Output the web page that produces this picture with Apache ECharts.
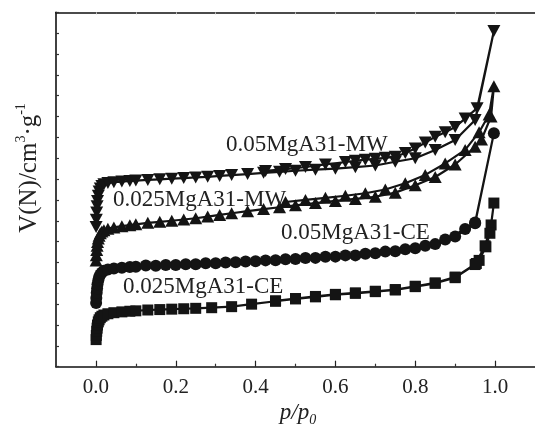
<!DOCTYPE html>
<html>
<head>
<meta charset="utf-8">
<script src="https://cdn.jsdelivr.net/npm/echarts@6/dist/echarts.min.js"></script>
<style>html,body{margin:0;padding:0;background:#fff}#c{width:535px;height:434px}</style>
</head>
<body>
<div id="c"></div>
<script>
// x tick values
const xMajor = [0, 0.2, 0.4, 0.6, 0.8, 1.0];
const xMinor = [0.1, 0.3, 0.5, 0.7, 0.9];
const xTop = [0, 0.1, 0.2, 0.3, 0.4, 0.5, 0.6, 0.7, 0.8, 0.9, 1.0];

// series names
const names = ['0.025MgA31-CE', '0.05MgA31-CE', '0.025MgA31-MW', '0.05MgA31-MW'];

// 0.025MgA31-CE (squares)
const ce025Ads = [[0.0005,1.3],[0.001,1.5],[0.002,1.7],[0.003,1.85],[0.004,2.0],[0.006,2.15],[0.008,2.25],[0.011,2.35],[0.015,2.42],[0.02,2.48],[0.03,2.54],[0.045,2.59],[0.065,2.63],[0.085,2.66],[0.1,2.68],[0.13,2.72],[0.16,2.74],[0.19,2.76],[0.22,2.78],[0.25,2.80],[0.29,2.83],[0.34,2.88],[0.39,3.0],[0.45,3.14],[0.50,3.25],[0.55,3.35],[0.60,3.45],[0.65,3.52],[0.70,3.60],[0.75,3.68],[0.80,3.84],[0.85,4.0],[0.90,4.27],[0.95,4.9],[0.975,5.8],[0.99,6.8],[0.997,7.85]];
const ce025Des = [[0.987,6.4],[0.977,5.75],[0.96,5.1],[0.953,4.95],[0.90,4.3],[0.85,4.02],[0.80,3.86],[0.75,3.70],[0.70,3.62],[0.65,3.54],[0.60,3.47],[0.55,3.37],[0.50,3.27],[0.45,3.16]];

// 0.05MgA31-CE (circles)
const ce05Ads = [[0.0005,3.05],[0.001,3.3],[0.002,3.55],[0.003,3.75],[0.004,3.95],[0.006,4.15],[0.008,4.3],[0.011,4.42],[0.015,4.52],[0.02,4.6],[0.03,4.66],[0.045,4.71],[0.065,4.75],[0.085,4.78],[0.1,4.8],[0.15,4.84],[0.2,4.88],[0.25,4.92],[0.3,4.96],[0.35,5.01],[0.4,5.06],[0.45,5.11],[0.5,5.17],[0.55,5.22],[0.6,5.28],[0.65,5.34],[0.7,5.44],[0.75,5.54],[0.8,5.68],[0.85,5.88],[0.9,6.24],[0.95,6.88],[0.997,11.2]];
const ce05Des = [[0.95,6.92],[0.925,6.6],[0.875,6.1],[0.825,5.8],[0.775,5.63],[0.725,5.52],[0.675,5.42],[0.625,5.34],[0.575,5.27],[0.525,5.21],[0.475,5.15],[0.425,5.1],[0.375,5.05],[0.325,5.0],[0.275,4.96],[0.225,4.92],[0.175,4.88],[0.125,4.85]];

// 0.025MgA31-MW (up triangles)
const mw025Ads = [[0.0005,5.1],[0.001,5.35],[0.002,5.6],[0.003,5.8],[0.004,5.98],[0.006,6.15],[0.008,6.28],[0.011,6.4],[0.015,6.48],[0.02,6.55],[0.03,6.62],[0.045,6.68],[0.065,6.74],[0.085,6.79],[0.1,6.83],[0.13,6.9],[0.16,6.95],[0.19,7.0],[0.22,7.06],[0.25,7.12],[0.28,7.2],[0.31,7.28],[0.34,7.36],[0.38,7.46],[0.42,7.56],[0.46,7.65],[0.5,7.74],[0.55,7.85],[0.6,7.95],[0.65,8.05],[0.7,8.15],[0.75,8.35],[0.8,8.7],[0.85,9.1],[0.9,9.7],[0.95,10.55],[0.966,10.9],[0.99,12.0],[0.997,13.45]];
const mw025Des = [[0.985,12.1],[0.96,11.25],[0.925,10.4],[0.875,9.75],[0.825,9.2],[0.775,8.8],[0.725,8.5],[0.675,8.32],[0.625,8.2],[0.575,8.1],[0.525,8.0],[0.475,7.9]];

// 0.05MgA31-MW (down triangles)
const mw05Ads = [[0.0005,6.7],[0.001,7.05],[0.002,7.4],[0.003,7.7],[0.004,7.95],[0.006,8.2],[0.008,8.4],[0.011,8.55],[0.015,8.67],[0.02,8.75],[0.03,8.81],[0.045,8.85],[0.065,8.88],[0.085,8.91],[0.1,8.93],[0.13,8.96],[0.16,8.99],[0.19,9.02],[0.22,9.05],[0.25,9.08],[0.28,9.11],[0.31,9.15],[0.34,9.19],[0.38,9.24],[0.42,9.3],[0.46,9.35],[0.5,9.4],[0.55,9.45],[0.6,9.5],[0.65,9.57],[0.7,9.65],[0.75,9.83],[0.8,10.0],[0.85,10.4],[0.9,10.87],[0.95,11.83],[0.997,16.1]];
const mw05Des = [[0.955,12.4],[0.925,11.9],[0.9,11.5],[0.875,11.25],[0.85,11.03],[0.825,10.75],[0.8,10.47],[0.775,10.25],[0.75,10.07],[0.725,10.02],[0.7,9.97],[0.675,9.93],[0.65,9.88],[0.625,9.82],[0.575,9.7],[0.525,9.58],[0.475,9.48],[0.425,9.39]];

const black = '#141414';
const serif = '"Liberation Serif","Times New Roman",serif';

function mk(data, symbol, size, rot) {
  return {
    type: 'line', data: data, symbol: symbol, symbolSize: size, symbolRotate: rot || 0,
    lineStyle: {color: black, width: 2.2}, itemStyle: {color: black},
    showSymbol: true, animation: false, clip: true, z: 3
  };
}

const chart = echarts.init(document.getElementById('c'), null, {renderer: 'canvas'});
chart.setOption({
  animation: false,
  backgroundColor: '#fff',
  grid: {left: 56, right: -2, top: 12.3, bottom: 67.3},
  xAxis: [
    {type: 'value', min: -0.1, max: 1.1, position: 'bottom',
     axisLine: {show: true, onZero: false, lineStyle: {color: '#111', width: 1.6}},
     axisTick: {show: true, inside: true, length: 6, customValues: xMajor, lineStyle: {color: '#222', width: 1.2}},
     axisLabel: {show: true, customValues: xMajor, formatter: v => v.toFixed(1), color: '#222', fontSize: 21, fontFamily: serif, margin: 10},
     splitLine: {show: false}},
    {type: 'value', min: -0.1, max: 1.1, position: 'bottom',
     axisLine: {show: false, onZero: false},
     axisTick: {show: true, inside: true, length: 3, customValues: xMinor, lineStyle: {color: '#333', width: 1.2}},
     axisLabel: {show: false}, splitLine: {show: false}},
    {type: 'value', min: -0.1, max: 1.1, position: 'top',
     axisLine: {show: true, onZero: false, lineStyle: {color: '#111', width: 1.6}},
     axisTick: {show: true, inside: true, length: 2, customValues: xTop, lineStyle: {color: '#bbb', width: 1}},
     axisLabel: {show: false}, splitLine: {show: false}}
  ],
  yAxis: [
    {type: 'value', min: 0, max: 17, interval: 1, position: 'left',
     axisLine: {show: true, onZero: false, lineStyle: {color: '#111', width: 1.6}},
     axisTick: {show: true, inside: true, length: 3, lineStyle: {color: '#333', width: 1.2}},
     axisLabel: {show: false}, splitLine: {show: false}}
  ],
  series: [
    mk(ce025Ads.concat(ce025Des), 'rect', 11),
    mk(ce05Ads.concat(ce05Des), 'circle', 12),
    mk(mw025Ads.concat(mw025Des), 'triangle', [13, 12]),
    mk(mw05Ads.concat(mw05Des), 'triangle', [13, 12], 180)
  ],
  graphic: [
    {type: 'text', x: 226, y: 145, z: 100, style: {text: names[3], fontSize: 23, fontFamily: serif, fill: '#222', align: 'left', verticalAlign: 'middle'}},
    {type: 'text', x: 113, y: 200, z: 100, style: {text: names[2], fontSize: 23, fontFamily: serif, fill: '#222', align: 'left', verticalAlign: 'middle'}},
    {type: 'text', x: 281, y: 233, z: 100, style: {text: names[1], fontSize: 23, fontFamily: serif, fill: '#222', align: 'left', verticalAlign: 'middle'}},
    {type: 'text', x: 123, y: 287, z: 100, style: {text: names[0], fontSize: 23, fontFamily: serif, fill: '#222', align: 'left', verticalAlign: 'middle'}},
    {type: 'text', x: 28, y: 168, rotation: Math.PI / 2, z: 100,
     style: {text: '{a|V(N)/cm}{s|3}{a|·g}{s|-1}', align: 'center', verticalAlign: 'middle', fill: '#222',
       rich: {a: {fontSize: 25, fontFamily: serif, fill: '#222', lineHeight: 27, verticalAlign: 'bottom'},
              s: {fontSize: 14, fontFamily: serif, fill: '#222', lineHeight: 27, verticalAlign: 'top'}}}},
    {type: 'text', x: 298, y: 414, z: 100,
     style: {text: '{i|p/p}{s|0}', align: 'center', verticalAlign: 'middle', fill: '#222',
       rich: {i: {fontSize: 23, fontFamily: serif, fontStyle: 'italic', fill: '#222', lineHeight: 26, verticalAlign: 'top'},
              s: {fontSize: 14, fontFamily: serif, fontStyle: 'italic', fill: '#222', lineHeight: 26, verticalAlign: 'bottom'}}}}
  ]
});
</script>
</body>
</html>
